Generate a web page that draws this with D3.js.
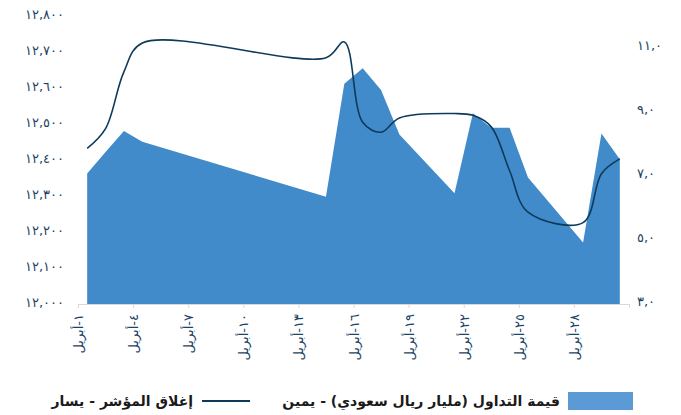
<!DOCTYPE html>
<html>
<head>
<meta charset="utf-8">
<script src="https://cdn.jsdelivr.net/npm/d3@7"></script>
<style>
  body { margin: 0; background: #fff; }
  text { font-family: "DejaVu Sans", sans-serif; }
</style>
</head>
<body>
<div id="chart"></div>
<script>
// trading days of April (day of month)
const tradeDays = [1, 2, 3, 4, 14, 15, 16, 17, 18, 21, 22, 23, 24, 25, 28, 29, 30];
// turnover, billion SAR (right axis)
const turnover = [7.08, 7.75, 8.41, 8.07, 6.35, 9.88, 10.37, 9.69, 8.30, 6.46, 8.96, 8.51, 8.51, 6.95, 4.92, 8.33, 7.52];
// index close (left axis)
const indexClose = [12432, 12487, 12645, 12725, 12684, 12728, 12505, 12477, 12517, 12529, 12524, 12492, 12370, 12255, 12226, 12362, 12403];

const xTickDays = [1, 4, 7, 10, 13, 16, 19, 22, 25, 28];
const xTickLabels = ["١-أبريل", "٤-أبريل", "٧-أبريل", "١٠-أبريل", "١٣-أبريل", "١٦-أبريل", "١٩-أبريل", "٢٢-أبريل", "٢٥-أبريل", "٢٨-أبريل"];
const leftTicks = [12000, 12100, 12200, 12300, 12400, 12500, 12600, 12700, 12800];
const leftLabels = ["١٢,٠٠٠", "١٢,١٠٠", "١٢,٢٠٠", "١٢,٣٠٠", "١٢,٤٠٠", "١٢,٥٠٠", "١٢,٦٠٠", "١٢,٧٠٠", "١٢,٨٠٠"];
const rightTicks = [3, 5, 7, 9, 11];
const rightLabels = ["٣,٠", "٥,٠", "٧,٠", "٩,٠", "١١,٠"];

const legendArea = "قيمة التداول (مليار ريال سعودي) - يمين";
const legendLine = "إغلاق المؤشر - يسار";

const width = 681, height = 415;
const plot = {left: 78, right: 629, top: 16, bottom: 304};

const svg = d3.select("#chart").append("svg")
    .attr("width", width)
    .attr("height", height);

const x = d3.scaleLinear().domain([0.5, 30.5]).range([plot.left, plot.right]);
const yLeft = d3.scaleLinear().domain([12000, 12800]).range([plot.bottom, plot.top]);
const yRight = d3.scaleLinear().domain([3, 12]).range([plot.bottom, plot.top]);

const data = tradeDays.map((d, i) => ({day: d, vol: turnover[i], close: indexClose[i]}));

// area - turnover
const area = d3.area()
    .x(d => x(d.day))
    .y0(yRight(3))
    .y1(d => yRight(d.vol));

svg.append("path")
    .datum(data)
    .attr("d", area)
    .attr("fill", "#428bca");

// line - index close
const line = d3.line()
    .x(d => x(d.day))
    .y(d => yLeft(d.close))
    .curve(d3.curveCatmullRom.alpha(0.5));

svg.append("path")
    .datum(data)
    .attr("d", line)
    .attr("fill", "none")
    .attr("stroke", "#0e3a5a")
    .attr("stroke-width", 1.6);

// x axis
const xAxis = d3.axisBottom(x)
    .tickValues(xTickDays.map(d => d - 0.5).concat([30.5]))
    .tickSize(4)
    .tickSizeOuter(0)
    .tickFormat((d, i) => xTickLabels[i] || "");

const gx = svg.append("g")
    .attr("transform", "translate(0," + plot.bottom + ")")
    .call(xAxis);
gx.select(".domain").attr("stroke", "#d9d9d9");
gx.selectAll(".tick line").attr("stroke", "#d9d9d9");
gx.selectAll(".tick text")
    .attr("fill", "#1d4466")
    .style("font-size", "13px")
    .attr("text-anchor", "end")
    .attr("transform", "rotate(-90)")
    .attr("x", -10)
    .attr("y", 0)
    .attr("dy", "0.35em");

// left axis
const gl = svg.append("g")
    .attr("transform", "translate(64,0)")
    .call(d3.axisLeft(yLeft).tickValues(leftTicks).tickSize(0)
        .tickFormat((d, i) => leftLabels[i]));
gl.select(".domain").remove();
gl.selectAll(".tick text")
    .attr("fill", "#1d4466")
    .style("font-size", "13px")
    .attr("x", 0)
    .attr("dy", "0.2em");

// right axis
const gr = svg.append("g")
    .attr("transform", "translate(637,0)")
    .call(d3.axisRight(yRight).tickValues(rightTicks).tickSize(0)
        .tickFormat((d, i) => rightLabels[i]));
gr.select(".domain").remove();
gr.selectAll(".tick text")
    .attr("fill", "#1d4466")
    .style("font-size", "13px")
    .attr("x", 0)
    .attr("dy", "0.1em");

// legend
const lg = svg.append("g");
lg.append("rect")
    .attr("x", 568).attr("y", 392)
    .attr("width", 65).attr("height", 18)
    .attr("fill", "#5b9bd5");
lg.append("text")
    .attr("x", 560).attr("y", 406)
    .attr("text-anchor", "end")
    .style("font-size", "14px")
    .style("font-weight", "bold")
    .attr("fill", "#1a1a1a")
    .text(legendArea);
lg.append("line")
    .attr("x1", 202).attr("x2", 250)
    .attr("y1", 401).attr("y2", 401)
    .attr("stroke", "#0e3a5a")
    .attr("stroke-width", 2);
lg.append("text")
    .attr("x", 193).attr("y", 406)
    .attr("text-anchor", "end")
    .style("font-size", "14px")
    .style("font-weight", "bold")
    .attr("fill", "#1a1a1a")
    .text(legendLine);
</script>
</body>
</html>
